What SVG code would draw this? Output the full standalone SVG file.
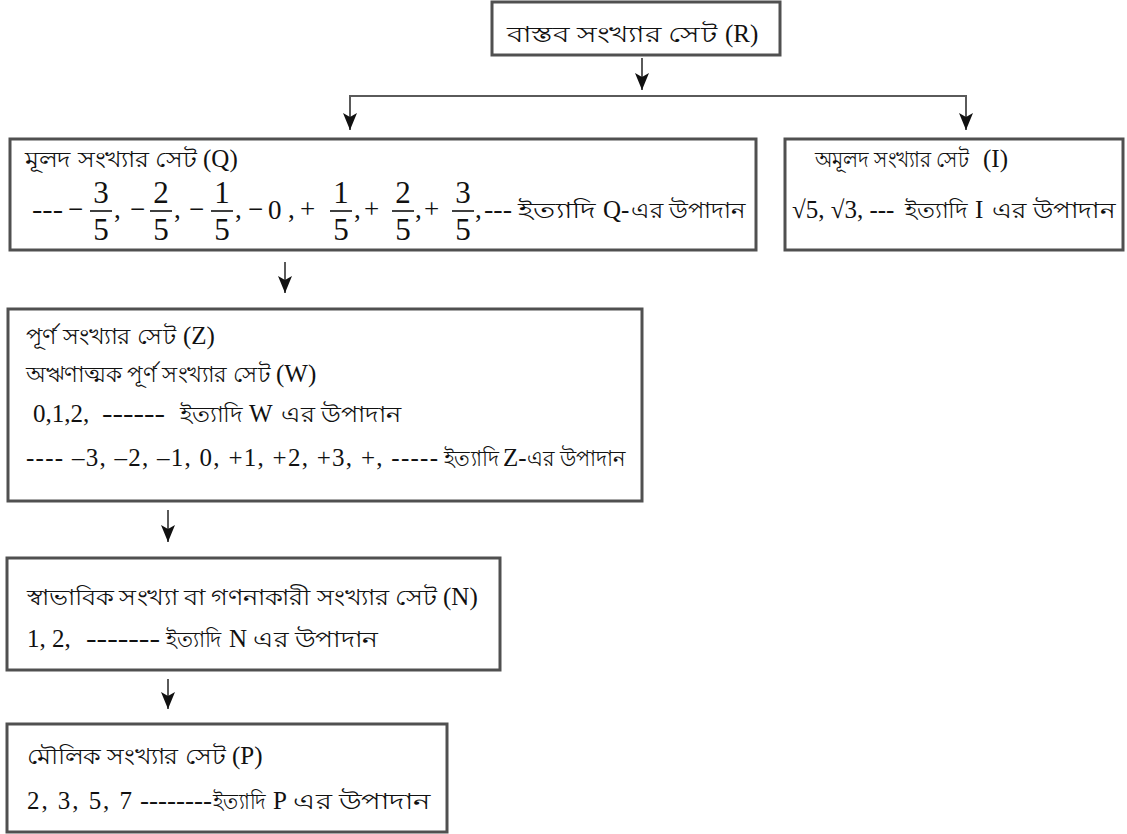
<svg xmlns="http://www.w3.org/2000/svg" width="1127" height="834" viewBox="0 0 1127 834">
<defs>
<style>
.box{fill:#fff;stroke:#505050;stroke-width:3}
.b{font-family:"Liberation Serif","Noto Sans",serif;font-size:22px;fill:#111}
.L{font-family:"Liberation Serif",serif;font-size:25px;fill:#111}
.m{font-family:"Liberation Serif",serif;font-size:27px;fill:#111}
.fr{font-family:"Liberation Serif",serif;font-size:31px;fill:#111;text-anchor:middle}
.bar{stroke:#111;stroke-width:1.6}
.conn{fill:none;stroke:#5a5a5a;stroke-width:2}
</style>
<marker id="ah" viewBox="0 0 17 14" refX="17" refY="7" markerWidth="17" markerHeight="14" markerUnits="userSpaceOnUse" orient="auto">
<path d="M0,0 L17,7 L0,14 L4,7 Z" fill="#111"/>
</marker>
</defs>
<rect width="1127" height="834" fill="#fff"/>
<g id="connectors">
<path class="conn" d="M642,58 V90" marker-end="url(#ah)"/>
<path class="conn" d="M350,120 V96 H966 V120"/>
<path class="conn" d="M350,100 V130" marker-end="url(#ah)"/>
<path class="conn" d="M966,100 V130" marker-end="url(#ah)"/>
<path class="conn" d="M285,262 V293" marker-end="url(#ah)"/>
<path class="conn" d="M168,510 V542" marker-end="url(#ah)"/>
<path class="conn" d="M168,679 V709" marker-end="url(#ah)"/>
</g>
<g id="node-R">
<rect class="box" x="492" y="2" width="288" height="53"/>
<text class="b" x="507" y="42" font-size="31" textLength="210" lengthAdjust="spacingAndGlyphs">বাস্তব সংখ্যার সেট</text>
<text class="L" x="725" y="42" font-size="31">(R)</text>
</g>
<g id="node-Q">
<rect class="box" x="10" y="139" width="746" height="111"/>
<text class="b" x="25" y="167" textLength="172" lengthAdjust="spacingAndGlyphs">মূলদ সংখ্যার সেট</text>
<text class="L" x="203" y="167">(Q)</text>
<text class="m" x="32" y="218" textLength="31" lengthAdjust="spacingAndGlyphs">---</text>
<text class="m" x="68" y="218">−</text>
<text class="fr" x="101" y="203">3</text><line class="bar" x1="90" y1="211" x2="112" y2="211"/><text class="fr" x="101" y="240">5</text>
<text class="m" x="114" y="218">,</text>
<text class="m" x="130" y="218">−</text>
<text class="fr" x="161" y="203">2</text><line class="bar" x1="150" y1="211" x2="172" y2="211"/><text class="fr" x="161" y="240">5</text>
<text class="m" x="174" y="218">,</text>
<text class="m" x="189" y="218">−</text>
<text class="fr" x="222" y="203">1</text><line class="bar" x1="211" y1="211" x2="233" y2="211"/><text class="fr" x="222" y="240">5</text>
<text class="m" x="235" y="218">,</text>
<text class="m" x="248" y="218">−</text>
<text class="m" x="268" y="219">0</text>
<text class="m" x="288" y="218">,</text>
<text class="m" x="300" y="218">+</text>
<text class="fr" x="341" y="203">1</text><line class="bar" x1="330" y1="211" x2="352" y2="211"/><text class="fr" x="341" y="240">5</text>
<text class="m" x="354" y="218">,</text>
<text class="m" x="364" y="218">+</text>
<text class="fr" x="403" y="203">2</text><line class="bar" x1="392" y1="211" x2="414" y2="211"/><text class="fr" x="403" y="240">5</text>
<text class="m" x="415" y="218">,</text>
<text class="m" x="424" y="218">+</text>
<text class="fr" x="463" y="203">3</text><line class="bar" x1="452" y1="211" x2="474" y2="211"/><text class="fr" x="463" y="240">5</text>
<text class="m" x="475" y="218">,</text>
<text class="L" x="484" y="218" textLength="28" lengthAdjust="spacingAndGlyphs">---</text>
<text class="b" x="518" y="218" textLength="78" lengthAdjust="spacingAndGlyphs">ইত্যাদি</text>
<text class="L" x="603" y="218">Q-</text>
<text class="b" x="631" y="218" textLength="114" lengthAdjust="spacingAndGlyphs">এর উপাদান</text>
</g>
<g id="node-I">
<rect class="box" x="785" y="139" width="338" height="111"/>
<text class="b" x="815" y="167" textLength="154" lengthAdjust="spacingAndGlyphs">অমূলদ সংখ্যার সেট</text>
<text class="L" x="983" y="167">(I)</text>
<text class="L" x="792" y="218" font-size="26">√5, √3, ---</text>
<text class="b" x="905" y="218" textLength="63" lengthAdjust="spacingAndGlyphs">ইত্যাদি</text>
<text class="L" x="975" y="218">I</text>
<text class="b" x="992" y="218" textLength="123" lengthAdjust="spacingAndGlyphs">এর উপাদান</text>
</g>
<g id="node-Z">
<rect class="box" x="8" y="309" width="634" height="192"/>
<text class="b" x="26" y="344" textLength="150" lengthAdjust="spacingAndGlyphs">পূর্ণ সংখ্যার সেট</text>
<text class="L" x="183" y="344" font-size="27">(Z)</text>
<text class="b" x="26" y="382" textLength="244" lengthAdjust="spacingAndGlyphs">অঋণাত্মক পূর্ণ সংখ্যার সেট</text>
<text class="L" x="276" y="382">(W)</text>
<text class="L" x="33" y="422">0,1,2,</text>
<text class="L" x="102" y="422" textLength="63" lengthAdjust="spacingAndGlyphs">------</text>
<text class="b" x="180" y="422" textLength="63" lengthAdjust="spacingAndGlyphs">ইত্যাদি</text>
<text class="L" x="249" y="422">W</text>
<text class="b" x="281" y="422" textLength="120" lengthAdjust="spacingAndGlyphs">এর উপাদান</text>
<text class="L" x="26" y="466" font-size="26" textLength="412" lengthAdjust="spacing">---- –3, –2, –1, 0, +1, +2, +3, +, -----</text>
<text class="b" x="444" y="466" textLength="55" lengthAdjust="spacingAndGlyphs">ইত্যাদি</text>
<text class="L" x="503" y="466">Z-</text>
<text class="b" x="527" y="466" textLength="98" lengthAdjust="spacingAndGlyphs">এর উপাদান</text>
</g>
<g id="node-N">
<rect class="box" x="7" y="558" width="493" height="112"/>
<text class="b" x="27" y="605" textLength="410" lengthAdjust="spacingAndGlyphs">স্বাভাবিক সংখ্যা বা গণনাকারী সংখ্যার সেট</text>
<text class="L" x="443" y="605" font-size="23">(N)</text>
<text class="L" x="27" y="647" font-size="27">1, 2,</text>
<text class="L" x="86" y="647" textLength="74" lengthAdjust="spacingAndGlyphs">-------</text>
<text class="b" x="166" y="647" textLength="56" lengthAdjust="spacingAndGlyphs">ইত্যাদি</text>
<text class="L" x="229" y="647">N</text>
<text class="b" x="253" y="647" textLength="125" lengthAdjust="spacingAndGlyphs">এর উপাদান</text>
</g>
<g id="node-P">
<rect class="box" x="7" y="724" width="440" height="108"/>
<text class="b" x="27" y="764" textLength="199" lengthAdjust="spacingAndGlyphs">মৌলিক সংখ্যার সেট</text>
<text class="L" x="232" y="764">(P)</text>
<text class="L" x="27" y="809" font-size="28" textLength="105" lengthAdjust="spacing">2, 3, 5, 7</text>
<text class="L" x="140" y="809" textLength="72" lengthAdjust="spacingAndGlyphs">--------</text>
<text class="b" x="213" y="809" textLength="53" lengthAdjust="spacingAndGlyphs">ইত্যাদি</text>
<text class="L" x="273" y="809">P</text>
<text class="b" x="293" y="809" textLength="137" lengthAdjust="spacingAndGlyphs">এর উপাদান</text>
</g>
</svg>
